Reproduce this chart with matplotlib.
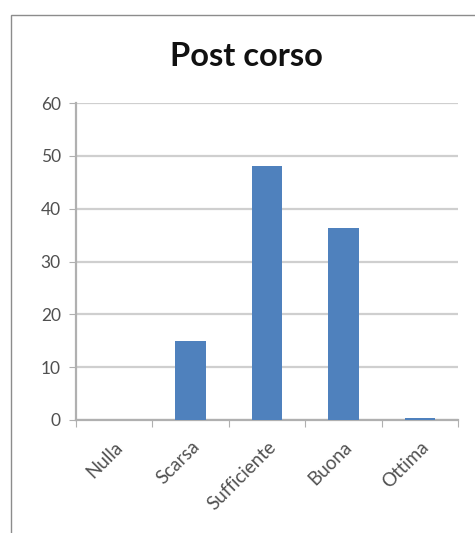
import numpy as np
import matplotlib
matplotlib.use('Agg')
import matplotlib.pyplot as plt
from matplotlib.patches import Rectangle

# data
categorie = ['Nulla', 'Scarsa', 'Sufficiente', 'Buona', 'Ottima']
valori = [0.0, 15.0, 48.1, 36.4, 0.3]
yticks = [0, 10, 20, 30, 40, 50, 60]

plt.rcParams['font.family'] = ['Lato', 'DejaVu Sans']

fig = plt.figure(figsize=(4.75, 5.33), dpi=100)
# chart border
fig.patches.append(Rectangle((11/475, -0.01), 470/475, 1 - 15/533 + 0.01,
                             transform=fig.transFigure, fill=False,
                             edgecolor='#8c8c8c', linewidth=1.0))

ax = fig.add_axes([76/475, 1 - 420/533, (458 - 76)/475, (420 - 103)/533])
x = np.arange(len(categorie))
ax.bar(x, valori, width=0.4, color='#4f81bd', zorder=3)

ax.set_xlim(-0.5, len(categorie) - 0.5)
ax.set_ylim(0, 60)
ax.set_yticks(yticks)
ax.yaxis.grid(True, color='#cfcfcf', linewidth=1.6, zorder=0)

# category boundaries as tick marks, labels in the middle
ax.set_xticks(np.arange(len(categorie) + 1) - 0.5)
ax.set_xticklabels([])
ax.set_xticks(x, minor=True)
ax.set_xticklabels(categorie, minor=True, rotation=45, ha='right',
                   rotation_mode='anchor', fontsize=13.5, color='#505050')
ax.tick_params(axis='x', which='minor', length=0, pad=13)
ax.tick_params(axis='x', which='major', length=5, color='#b0b0b0', direction='out')
ax.tick_params(axis='y', length=5, color='#b0b0b0', labelsize=12.5,
               labelcolor='#505050', pad=6)

for s in ['top', 'right']:
    ax.spines[s].set_visible(False)
for s in ['left', 'bottom']:
    ax.spines[s].set_color('#b0b0b0')
    ax.spines[s].set_linewidth(1.6)

fig.text(246/475, 1 - 57/533, 'Post corso', ha='center', va='center',
         fontsize=23.5, fontweight='bold', color='#111111')

fig.savefig('out.png', dpi=100)
